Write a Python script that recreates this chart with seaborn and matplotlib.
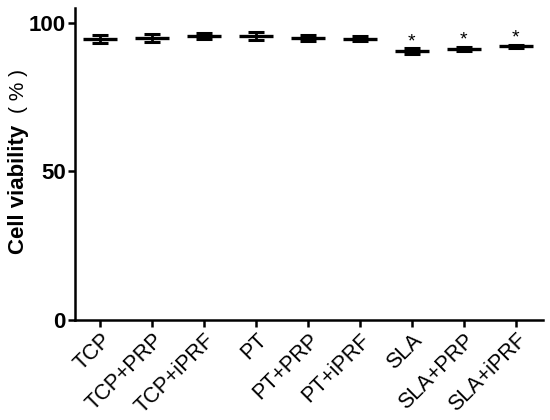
import matplotlib
matplotlib.use('Agg')
import matplotlib.pyplot as plt
import seaborn as sns

groups = ['TCP', 'TCP+PRP', 'TCP+iPRF', 'PT', 'PT+PRP', 'PT+iPRF', 'SLA', 'SLA+PRP', 'SLA+iPRF']
means = [94.6, 94.9, 95.5, 95.5, 94.8, 94.7, 90.6, 91.3, 92.1]
sds = [1.3, 1.2, 1.1, 1.3, 1.0, 0.8, 1.1, 0.7, 0.4]
signif = ['', '', '', '', '', '', '*', '*', '*']
yticks = [0, 50, 100]

sns.set_style('ticks')
plt.rcParams['font.family'] = ['Liberation Sans', 'DejaVu Sans']
plt.rcParams['text.color'] = 'black'
plt.rcParams['xtick.color'] = 'black'
plt.rcParams['ytick.color'] = 'black'
plt.rcParams['axes.edgecolor'] = 'black'

fig = plt.figure(figsize=(5.5, 4.2), dpi=100)
ax = fig.add_axes([0.137, 0.238, 0.85, 0.743])

sns.pointplot(x=groups, y=means, color='black', marker='_', markersize=24,
              markeredgewidth=2.4, linestyle='none', errorbar=None, ax=ax)
xs = range(len(groups))
ax.errorbar(xs, means, yerr=sds, fmt='none', ecolor='black', elinewidth=2,
            capsize=5.8, capthick=2.2)

for i, s in enumerate(signif):
    if s:
        ax.text(i, means[i] + 2.9, s, ha='center', va='center', fontsize=14)

ax.set_xlim(-0.48, 8.52)
ax.set_ylim(0, 105)
ax.set_yticks(yticks)
ax.set_yticklabels([str(t) for t in yticks], fontsize=16, fontweight='bold')
ax.set_xticks(list(xs))
ax.set_xticklabels(groups, rotation=45, ha='right', rotation_mode='anchor', fontsize=15.5)
ax.set_ylabel('')
ax.set_xlabel('')
ax.text(-0.122, 0.42, 'Cell viability', transform=ax.transAxes, rotation=90,
        ha='center', va='center', fontsize=16, fontweight='bold')
ax.text(-0.122, 0.735, '( % )', transform=ax.transAxes, rotation=90,
        ha='center', va='center', fontsize=15)

sns.despine(ax=ax)
for sp in ['left', 'bottom']:
    ax.spines[sp].set_linewidth(1.8)
ax.tick_params(width=1.8, length=5, pad=2)

fig.savefig('out.png', dpi=100)
